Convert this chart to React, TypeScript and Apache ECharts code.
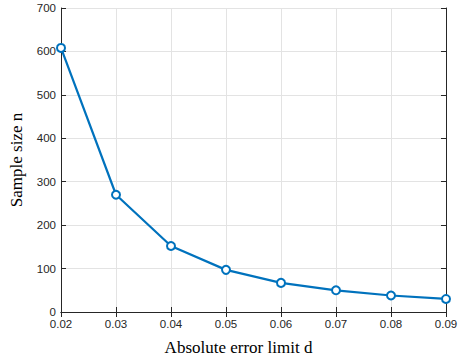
import React, { useEffect, useRef } from "react";
import * as echarts from "echarts";

const dValues = [0.02, 0.03, 0.04, 0.05, 0.06, 0.07, 0.08, 0.09];
const sampleSizes = [608, 270, 152, 97, 67, 50, 38, 30];
const xLabelName = "Absolute error limit d";
const yLabelName = "Sample size n";

export default function App() {
  const ref = useRef<HTMLDivElement>(null);
  useEffect(() => {
    if (!ref.current) return;
    const chart = echarts.init(ref.current, undefined, { renderer: "svg" });
    const axisColor = "#262626";
    const gridColor = "#e3e3e3";
    const tickFont = { fontFamily: "Liberation Sans, Arial, sans-serif", fontSize: 11.5, color: axisColor };
    chart.setOption({
      animation: false,
      backgroundColor: "#ffffff",
      grid: { left: 59, right: 18, top: 8, bottom: 50, containLabel: false },
      xAxis: [
        {
          type: "value",
          min: 0.02,
          max: 0.09,
          interval: 0.01,
          name: xLabelName,
          nameLocation: "middle",
          nameGap: 27,
          nameTextStyle: {
            fontFamily: "Liberation Serif, Times New Roman, serif",
            fontSize: 17,
            color: "#000",
            padding: [0, 30, 0, 0],
          },
          axisLine: { show: true, lineStyle: { color: axisColor, width: 1 } },
          axisTick: { show: true, inside: true, length: 5, lineStyle: { color: axisColor } },
          axisLabel: { ...tickFont, margin: 6, formatter: (v: number) => v.toFixed(2) },
          splitLine: { show: true, lineStyle: { color: gridColor, width: 1 } },
        },
        {
          type: "value",
          position: "top",
          min: 0.02,
          max: 0.09,
          interval: 0.01,
          axisLine: { show: true, lineStyle: { color: axisColor, width: 1 } },
          axisTick: { show: true, inside: true, length: 5, lineStyle: { color: axisColor } },
          axisLabel: { show: false },
          splitLine: { show: false },
        },
      ],
      yAxis: [
        {
          type: "value",
          min: 0,
          max: 700,
          interval: 100,
          name: yLabelName,
          nameLocation: "middle",
          nameGap: 36,
          nameTextStyle: { fontFamily: "Liberation Serif, Times New Roman, serif", fontSize: 17, color: "#000" },
          axisLine: { show: true, lineStyle: { color: axisColor, width: 1 } },
          axisTick: { show: true, inside: true, length: 5, lineStyle: { color: axisColor } },
          axisLabel: { ...tickFont, margin: 5 },
          splitLine: { show: true, lineStyle: { color: gridColor, width: 1 } },
        },
        {
          type: "value",
          position: "right",
          min: 0,
          max: 700,
          interval: 100,
          axisLine: { show: true, lineStyle: { color: axisColor, width: 1 } },
          axisTick: { show: true, inside: true, length: 5, lineStyle: { color: axisColor } },
          axisLabel: { show: false },
          splitLine: { show: false },
        },
      ],
      series: [
        {
          type: "line",
          xAxisIndex: 0,
          yAxisIndex: 0,
          data: dValues.map((d, i) => [d, sampleSizes[i]]),
          lineStyle: { color: "#0072BD", width: 2.2 },
          itemStyle: { color: "#ffffff", borderColor: "#0072BD", borderWidth: 2 },
          symbol: "circle",
          symbolSize: 8,
          showSymbol: true,
        },
      ],
    });
    return () => chart.dispose();
  }, []);
  return <div ref={ref} style={{ width: 464, height: 362, position: "absolute", left: 0, top: 0 }} />;
}
